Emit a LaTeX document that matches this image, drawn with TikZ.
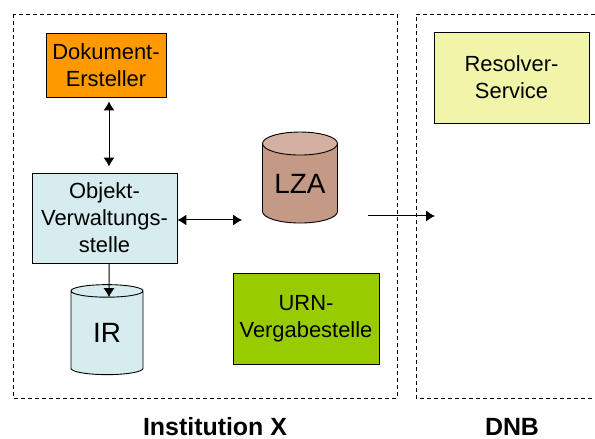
\documentclass[tikz,border=0pt]{standalone}
\usepackage{fontspec}
\setmainfont{Liberation Sans}
\usetikzlibrary{shapes.geometric,arrows.meta}

\definecolor{docorange}{RGB}{255,153,0}
\definecolor{objblue}{RGB}{214,236,238}
\definecolor{lzabrown}{RGB}{196,154,134}
\definecolor{lzatop}{RGB}{212,176,160}
\definecolor{urngreen}{RGB}{153,204,0}
\definecolor{resyellow}{RGB}{240,245,170}

\begin{document}
\begin{tikzpicture}[x=1bp, y=-1bp, >={Latex[length=9bp,width=11bp]},
    box/.style={draw, line width=0.9bp, align=center, inner sep=0pt,
      font=\fontsize{22}{27}\selectfont},
    store/.style={draw, line width=0.9bp, cylinder, shape border rotate=90,
      aspect=0.45, inner sep=0pt, cylinder uses custom fill,
      font=\fontsize{28}{32}\selectfont},
    frame/.style={draw, line width=0.8bp, dash pattern=on 4bp off 3bp},
    link/.style={line width=1bp, ->},
    dlink/.style={line width=1bp, <->},
    title/.style={font=\fontsize{25}{30}\selectfont\bfseries, inner sep=0pt, anchor=base}]
        \useasboundingbox (0,0) rectangle (595,439);

        % frames
        \draw[frame] (13,14) rectangle (397,398);
        \draw[frame] (595,14) -- (416,14) -- (416,398) -- (595,398);

        \node[box, fill=docorange, minimum width=120bp, minimum height=64bp] (doc) at (106,65) {Dokument-\\Ersteller};
        \node[box, fill=objblue, minimum width=145bp, minimum height=90bp] (obj) at (104.5,218) {Objekt-\\Verwaltungs-\\stelle};
        \node[store, cylinder body fill=lzabrown, cylinder end fill=lzatop, minimum width=75bp, minimum height=91bp] (lza) at (300,183.5) {LZA};
        \node[store, cylinder body fill=objblue, cylinder end fill=objblue, minimum width=72bp, minimum height=90bp] (ir) at (107,333) {IR};
        \node[box, fill=urngreen, minimum width=146bp, minimum height=91bp] (urn) at (306,318.5) {URN-\\Vergabestelle};
        \node[box, fill=resyellow, minimum width=155bp, minimum height=91bp] (res) at (511.5,77.5) {Resolver-\\Service};

        \coordinate (lzaout) at (368,216);
        \coordinate (dnbin) at (435,216);

        \draw[dlink, shorten <=4bp, shorten >=6bp] ([xshift=3bp]doc.south) -- ([xshift=4.5bp]obj.north);
        \draw[dlink, shorten >=20bp] ([yshift=-2bp]obj.east) -- ([yshift=-2bp]obj.east -| lza.west);
        \draw[link] ([xshift=4.5bp]obj.south) -- ([yshift=-13bp,xshift=2bp]ir.top);
        \draw[link] (lzaout) -- (dnbin);

        \node[title] (instx) at (215,435) {Institution X};
        \node[title] (dnb) at (512,435) {DNB};
\end{tikzpicture}
\end{document}
